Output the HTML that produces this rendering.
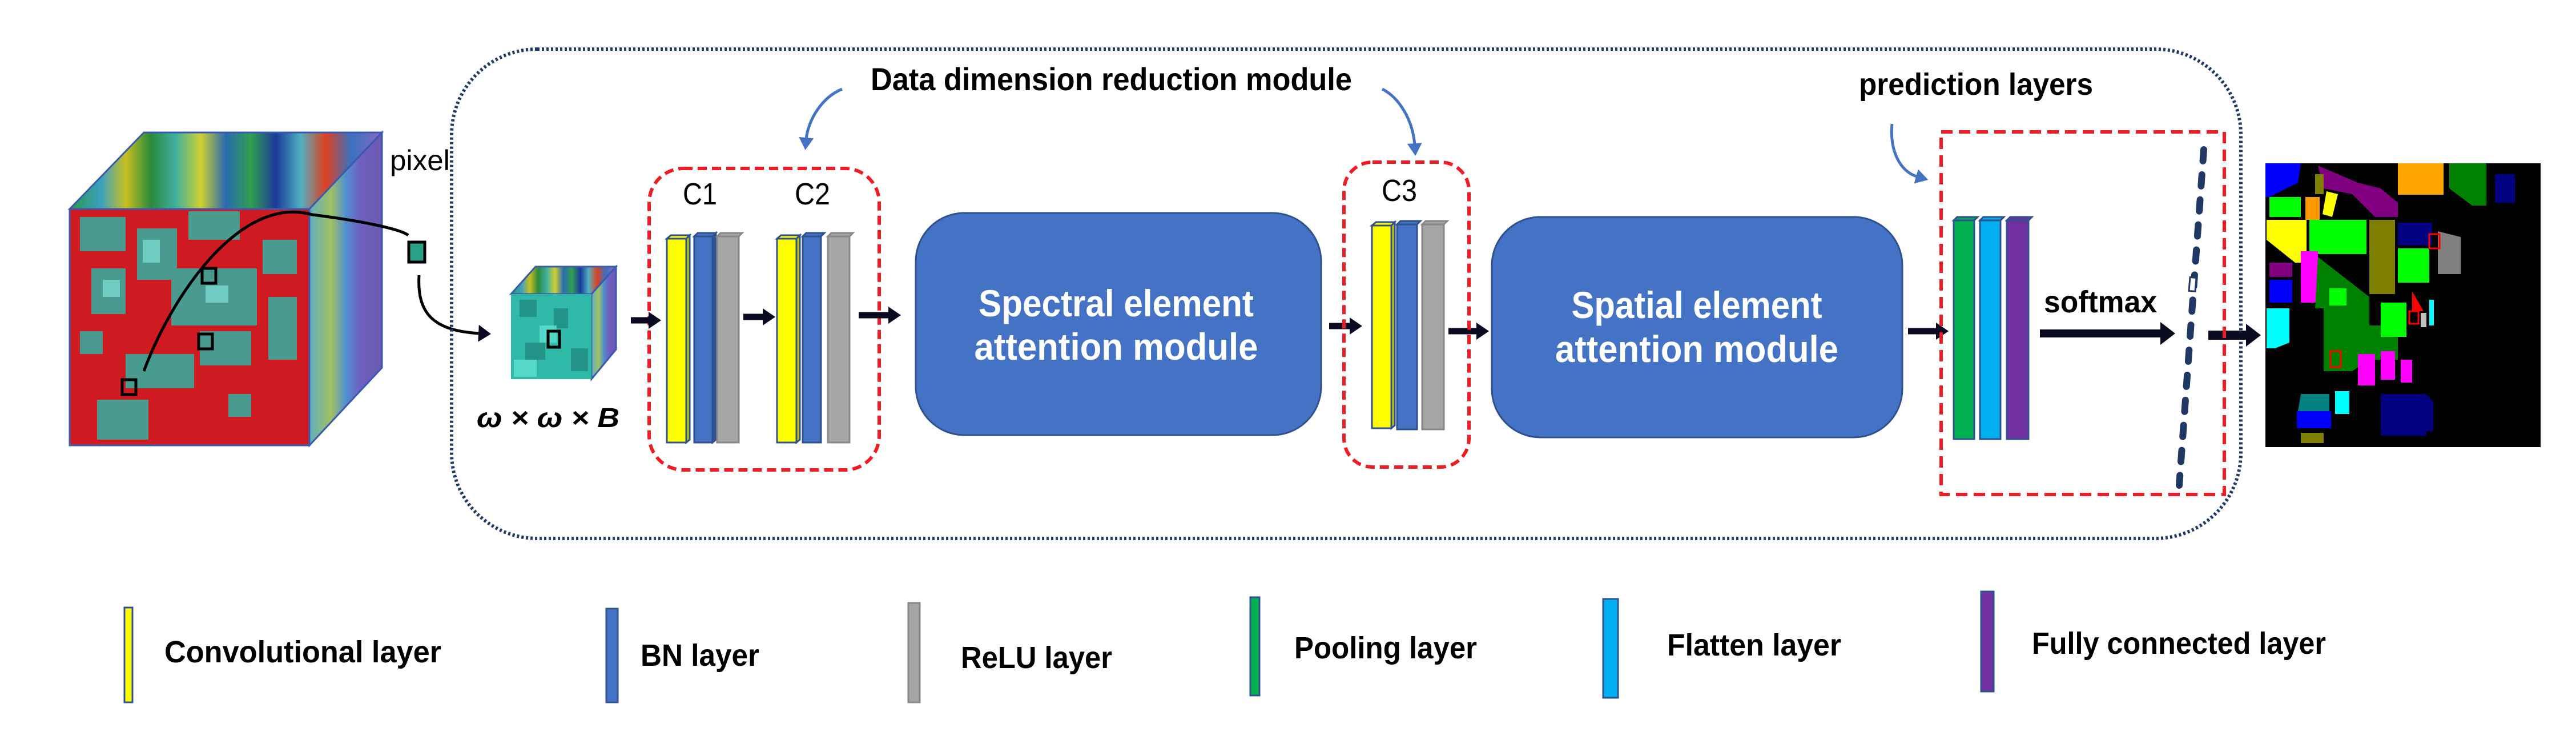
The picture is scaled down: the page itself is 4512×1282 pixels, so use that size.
<!DOCTYPE html>
<html><head><meta charset="utf-8"><style>
html,body{margin:0;padding:0;background:#fff;}
svg{display:block;}
text{font-family:"Liberation Sans",sans-serif;}
</style></head><body>
<svg width="4512" height="1282" viewBox="0 0 4512 1282" xmlns="http://www.w3.org/2000/svg">
<defs>
<linearGradient id="stripes" x1="0" y1="0" x2="1" y2="0">
<stop offset="0" stop-color="#2a9a4a"/><stop offset="0.1" stop-color="#3aa0c0"/><stop offset="0.18" stop-color="#c8c020"/><stop offset="0.26" stop-color="#2a8a3a"/><stop offset="0.34" stop-color="#40b0a0"/><stop offset="0.42" stop-color="#d0d030"/><stop offset="0.5" stop-color="#2a6ab0"/><stop offset="0.58" stop-color="#30a050"/><stop offset="0.66" stop-color="#1a3a9a"/><stop offset="0.74" stop-color="#50b0c0"/><stop offset="0.82" stop-color="#e04020"/><stop offset="0.9" stop-color="#3a70c0"/><stop offset="1" stop-color="#8a6ac0"/>
</linearGradient>
<linearGradient id="side" x1="0" y1="0" x2="1" y2="0">
<stop offset="0" stop-color="#60b0c0"/><stop offset="0.3" stop-color="#a0c060"/><stop offset="0.5" stop-color="#5090d0"/><stop offset="0.7" stop-color="#7060c0"/><stop offset="1" stop-color="#6a5ab0"/>
</linearGradient>
<marker id="ah" markerWidth="22" markerHeight="30" refX="4" refY="15" orient="auto" markerUnits="userSpaceOnUse"><path d="M0,0 L22,15 L0,30 z" fill="#0a0a20"/></marker>
<marker id="ahb" markerWidth="26" markerHeight="40" refX="4" refY="20" orient="auto" markerUnits="userSpaceOnUse"><path d="M0,0 L26,20 L0,40 z" fill="#0a0a20"/></marker>
<marker id="bh" markerWidth="22" markerHeight="26" refX="4" refY="13" orient="auto" markerUnits="userSpaceOnUse"><path d="M0,0 L22,13 L0,26 z" fill="#4472c4"/></marker>
</defs>

<polygon points="122,366 252,232 669,232 542,366" fill="url(#stripes)" stroke="#3a5ab0" stroke-width="3"/>
<polygon points="542,366 669,232 669,644 542,780" fill="url(#side)" stroke="#3a5ab0" stroke-width="3"/>
<rect x="122" y="366" width="420" height="414" fill="#d01a22"/>
<g fill="#3aaa9a" opacity="0.9">
<rect x="140" y="380" width="80" height="60"/><rect x="240" y="400" width="70" height="90"/><rect x="330" y="370" width="90" height="50"/>
<rect x="160" y="470" width="60" height="80"/><rect x="300" y="470" width="150" height="100"/><rect x="460" y="420" width="60" height="60"/>
<rect x="140" y="580" width="40" height="40"/><rect x="220" y="620" width="120" height="60"/><rect x="350" y="580" width="90" height="60"/>
<rect x="170" y="700" width="90" height="70"/><rect x="470" y="520" width="50" height="110"/><rect x="400" y="690" width="40" height="40"/>
</g>
<g fill="#7ad8d0" opacity="0.8"><rect x="250" y="420" width="30" height="40"/><rect x="360" y="500" width="40" height="30"/><rect x="180" y="490" width="30" height="30"/></g>
<rect x="122" y="366" width="420" height="414" fill="none" stroke="#3a5ab0" stroke-width="3"/>
<g fill="none" stroke="#000" stroke-width="5">
<rect x="354" y="470" width="24" height="26"/><rect x="348" y="585" width="24" height="26"/><rect x="214" y="665" width="24" height="26"/>
</g>
<path d="M252,650 C300,520 420,340 547,376 C620,385 700,400 715,412" fill="none" stroke="#000" stroke-width="5"/>
<text x="683" y="298" font-size="50" textLength="105" lengthAdjust="spacingAndGlyphs">pixel</text>
<rect x="716" y="424" width="28" height="35" fill="#2aa08a" stroke="#000" stroke-width="5"/>
<path d="M734,482 C730,550 760,580 842,584" fill="none" stroke="#000" stroke-width="5" marker-end="url(#ah)"/>

<polygon points="895,515 938,467 1079,467 1036,515" fill="url(#stripes)" stroke="#3a5ab0" stroke-width="3"/>
<polygon points="1036,515 1079,467 1079,612 1036,664" fill="url(#side)" stroke="#3a5ab0" stroke-width="3"/>
<rect x="895" y="515" width="141" height="149" fill="#30b8a8"/>
<g fill="#1e8a80" opacity="0.8"><rect x="910" y="525" width="30" height="30"/><rect x="970" y="540" width="25" height="35"/><rect x="920" y="600" width="35" height="30"/><rect x="1000" y="610" width="30" height="40"/></g>
<g fill="#60e0d0" opacity="0.8"><rect x="945" y="570" width="30" height="30"/><rect x="900" y="630" width="40" height="30"/></g>
<rect x="960" y="580" width="20" height="28" fill="none" stroke="#000" stroke-width="5"/>
<text x="835" y="748" font-size="48" font-family="Liberation Serif,serif" font-style="italic" font-weight="bold" textLength="250" lengthAdjust="spacingAndGlyphs">ω × ω × B</text>

<rect x="791" y="86" width="3134" height="857" rx="150" ry="150" fill="none" stroke="#1f3a6a" stroke-width="6" stroke-dasharray="4,4"/>

<text x="1525" y="158" font-size="56" font-weight="bold" textLength="843" lengthAdjust="spacingAndGlyphs">Data dimension reduction module</text>
<path d="M1475,156 C1440,170 1415,210 1412,245" fill="none" stroke="#4472c4" stroke-width="5" marker-end="url(#bh)"/>
<path d="M2421,156 C2450,170 2475,210 2478,255" fill="none" stroke="#4472c4" stroke-width="5" marker-end="url(#bh)"/>

<rect x="1137" y="295" width="403" height="528" rx="60" ry="60" fill="none" stroke="#ee1c24" stroke-width="6" stroke-dasharray="16,9"/>
<text x="1196" y="358" font-size="54" textLength="60" lengthAdjust="spacingAndGlyphs">C1</text>
<text x="1392" y="358" font-size="54" textLength="62" lengthAdjust="spacingAndGlyphs">C2</text>

<g stroke="#2f528f" stroke-width="3">
<rect x="1168" y="418" width="34" height="357" fill="#ffff00"/><polygon points="1168,418 1175,412 1208,412 1202,418" fill="#ffff00"/><polygon points="1202,418 1208,412 1208,770 1202,775" fill="#c8c800"/>
<rect x="1216" y="414" width="32" height="361" fill="#4472c4"/><polygon points="1216,414 1222,408 1254,408 1248,414" fill="#4472c4"/><polygon points="1248,414 1254,408 1254,770 1248,775" fill="#2f5597"/>
<rect x="1256" y="414" width="38" height="361" fill="#a5a5a5" stroke="#888"/><polygon points="1256,414 1262,408 1300,408 1294,414" fill="#a5a5a5" stroke="#888"/>
<rect x="1361" y="418" width="34" height="357" fill="#ffff00"/><polygon points="1361,418 1368,412 1401,412 1395,418" fill="#ffff00"/><polygon points="1395,418 1401,412 1401,770 1395,775" fill="#c8c800"/>
<rect x="1406" y="414" width="32" height="361" fill="#4472c4"/><polygon points="1406,414 1412,408 1444,408 1438,414" fill="#4472c4"/>
<rect x="1450" y="414" width="38" height="361" fill="#a5a5a5" stroke="#888"/><polygon points="1450,414 1456,408 1494,408 1488,414" fill="#a5a5a5" stroke="#888"/>
</g>

<g stroke="#0a0a20" stroke-width="11">
<line x1="1105" y1="561" x2="1140" y2="561" marker-end="url(#ah)"/>
<line x1="1302" y1="555" x2="1340" y2="555" marker-end="url(#ah)"/>
<line x1="1504" y1="552" x2="1560" y2="552" marker-end="url(#ah)"/>
<line x1="2328" y1="571" x2="2368" y2="571" marker-end="url(#ah)"/>
<line x1="2537" y1="580" x2="2590" y2="580" marker-end="url(#ah)"/>
<line x1="3342" y1="580" x2="3395" y2="580" marker-end="url(#ah)"/>
<line x1="3573" y1="584" x2="3788" y2="584" stroke-width="14" marker-end="url(#ahb)"/>
<line x1="3868" y1="587" x2="3938" y2="587" stroke-width="16" marker-end="url(#ahb)"/>
</g>

<rect x="1604" y="373" width="710" height="389" rx="85" ry="85" fill="#4472c4" stroke="#2f528f" stroke-width="3"/>
<text x="1955" y="554" font-size="66" font-weight="bold" fill="#fff" text-anchor="middle" textLength="482" lengthAdjust="spacingAndGlyphs">Spectral element</text>
<text x="1955" y="630" font-size="66" font-weight="bold" fill="#fff" text-anchor="middle" textLength="497" lengthAdjust="spacingAndGlyphs">attention module</text>

<rect x="2354" y="284" width="219" height="534" rx="50" ry="50" fill="none" stroke="#ee1c24" stroke-width="6" stroke-dasharray="16,9"/>
<text x="2420" y="352" font-size="54" textLength="62" lengthAdjust="spacingAndGlyphs">C3</text>
<g stroke="#2f528f" stroke-width="3">
<rect x="2403" y="395" width="34" height="355" fill="#ffff00"/><polygon points="2403,395 2410,389 2443,389 2437,395" fill="#ffff00"/><polygon points="2437,395 2443,389 2443,745 2437,750" fill="#c8c800"/>
<rect x="2447" y="393" width="35" height="359" fill="#4472c4"/><polygon points="2447,393 2453,387 2488,387 2482,393" fill="#4472c4"/>
<rect x="2491" y="393" width="38" height="359" fill="#a5a5a5" stroke="#888"/><polygon points="2491,393 2497,387 2535,387 2529,393" fill="#a5a5a5" stroke="#888"/>
</g>

<rect x="2613" y="380" width="719" height="386" rx="85" ry="85" fill="#4472c4" stroke="#2f528f" stroke-width="3"/>
<text x="2972" y="557" font-size="66" font-weight="bold" fill="#fff" text-anchor="middle" textLength="439" lengthAdjust="spacingAndGlyphs">Spatial element</text>
<text x="2972" y="634" font-size="66" font-weight="bold" fill="#fff" text-anchor="middle" textLength="496" lengthAdjust="spacingAndGlyphs">attention module</text>

<text x="3256" y="166" font-size="54" font-weight="bold" textLength="410" lengthAdjust="spacingAndGlyphs">prediction layers</text>
<path d="M3314,217 C3310,260 3325,300 3360,310" fill="none" stroke="#4472c4" stroke-width="5" marker-end="url(#bh)"/>
<rect x="3400" y="231" width="496" height="635" fill="none" stroke="#ee1c24" stroke-width="6" stroke-dasharray="20,11"/>
<g stroke="#2f528f" stroke-width="3">
<rect x="3422" y="386" width="36" height="383" fill="#00b050"/><polygon points="3422,386 3428,380 3464,380 3458,386" fill="#00b050"/>
<rect x="3468" y="386" width="36" height="383" fill="#00b0f0"/><polygon points="3468,386 3474,380 3510,380 3504,386" fill="#00b0f0"/>
<rect x="3515" y="386" width="38" height="383" fill="#7030a0"/><polygon points="3515,386 3521,380 3559,380 3553,386" fill="#7030a0"/>
</g>
<text x="3580" y="547" font-size="54" font-weight="bold" textLength="198" lengthAdjust="spacingAndGlyphs">softmax</text>
<line x1="3860" y1="262" x2="3817" y2="850" stroke="#1f3864" stroke-width="12" stroke-dasharray="20,24" stroke-linecap="round"/>
<rect x="3835" y="486" width="11" height="24" fill="#fff" stroke="#1f3864" stroke-width="3" transform="rotate(5 3841 498)"/>

<rect x="3968" y="286" width="482" height="497" fill="#000"/>
<g>
<polygon points="3968,286 4030,286 4025,320 3975,345 3968,345" fill="#0000ff"/>
<polygon points="4060,290 4130,320 4170,330 4200,355 4200,380 4160,380 4120,340 4070,330" fill="#800080"/>
<rect x="4200" y="286" width="80" height="55" fill="#ffa500"/>
<polygon points="4290,286 4355,286 4355,360 4330,360 4290,330" fill="#008000"/>
<rect x="4370" y="305" width="35" height="50" fill="#000080"/>
<rect x="3975" y="345" width="55" height="35" fill="#00ff00"/>
<rect x="4038" y="345" width="25" height="40" fill="#ff9900"/>
<polygon points="4075,335 4095,340 4085,380 4068,375" fill="#ffff00"/>
<rect x="4055" y="305" width="15" height="35" fill="#808000"/>
<polygon points="3970,385 4040,385 4040,460 4020,460 3970,420" fill="#ffff00"/>
<rect x="4045" y="385" width="100" height="60" fill="#00ff00"/>
<rect x="4150" y="385" width="45" height="130" fill="#808000"/>
<rect x="4200" y="390" width="60" height="40" fill="#000080"/>
<rect x="4200" y="435" width="55" height="60" fill="#00ff00"/>
<polygon points="4270,405 4310,415 4310,480 4270,480" fill="#808080"/>
<rect x="3975" y="460" width="40" height="25" fill="#800080"/>
<rect x="3975" y="490" width="40" height="40" fill="#0000ff"/>
<rect x="4030" y="440" width="30" height="90" fill="#ff00ff"/>
<polygon points="4060,450 4150,520 4150,570 4200,570 4200,630 4150,630 4120,650 4070,650 4070,540 4055,540" fill="#008000"/>
<rect x="4080" y="505" width="30" height="30" fill="#00ff00"/>
<rect x="4170" y="530" width="45" height="60" fill="#00ff00"/>
<polygon points="4225,510 4245,545 4225,545" fill="#ff0000"/>
<rect x="4240" y="548" width="10" height="25" fill="#c0c0c0"/>
<rect x="4255" y="525" width="8" height="45" fill="#00ffff"/>
<polygon points="3970,540 4010,540 4010,600 3985,610 3970,610" fill="#00ffff"/>
<rect x="4130" y="620" width="30" height="55" fill="#ff00ff"/>
<rect x="4170" y="615" width="25" height="50" fill="#ff00ff"/>
<rect x="4205" y="630" width="20" height="40" fill="#ff00ff"/>
<polygon points="4030,690 4080,690 4080,720 4025,720" fill="#008080"/>
<rect x="4090" y="685" width="25" height="40" fill="#00ffff"/>
<rect x="4023" y="720" width="60" height="30" fill="#0000ff"/>
<polygon points="4170,690 4250,690 4262,705 4262,755 4250,755 4250,763 4170,763" fill="#000080"/>
<rect x="4030" y="758" width="40" height="18" fill="#808000"/>
</g>
<g fill="none" stroke="#ff0000" stroke-width="3">
<rect x="4255" y="410" width="18" height="25"/><rect x="4220" y="545" width="16" height="22"/><rect x="4082" y="615" width="18" height="28"/>
</g>

<g stroke="#2f528f" stroke-width="3">
<rect x="218" y="1064" width="14" height="166" fill="#ffff00"/>
<rect x="1062" y="1066" width="20" height="164" fill="#4472c4"/>
<rect x="1591" y="1056" width="20" height="174" fill="#a5a5a5" stroke="#888"/>
<rect x="2190" y="1046" width="16" height="172" fill="#00b050"/>
<rect x="2808" y="1049" width="26" height="173" fill="#00b0f0"/>
<rect x="3470" y="1036" width="22" height="175" fill="#7030a0"/>
</g>
<g font-size="54" font-weight="bold">
<text x="288" y="1160" textLength="485" lengthAdjust="spacingAndGlyphs">Convolutional layer</text>
<text x="1122" y="1166" textLength="208" lengthAdjust="spacingAndGlyphs">BN layer</text>
<text x="1683" y="1170" textLength="265" lengthAdjust="spacingAndGlyphs">ReLU layer</text>
<text x="2267" y="1153" textLength="320" lengthAdjust="spacingAndGlyphs">Pooling layer</text>
<text x="2920" y="1148" textLength="305" lengthAdjust="spacingAndGlyphs">Flatten layer</text>
<text x="3559" y="1145" textLength="515" lengthAdjust="spacingAndGlyphs">Fully connected layer</text>
</g>
</svg>
</body></html>
